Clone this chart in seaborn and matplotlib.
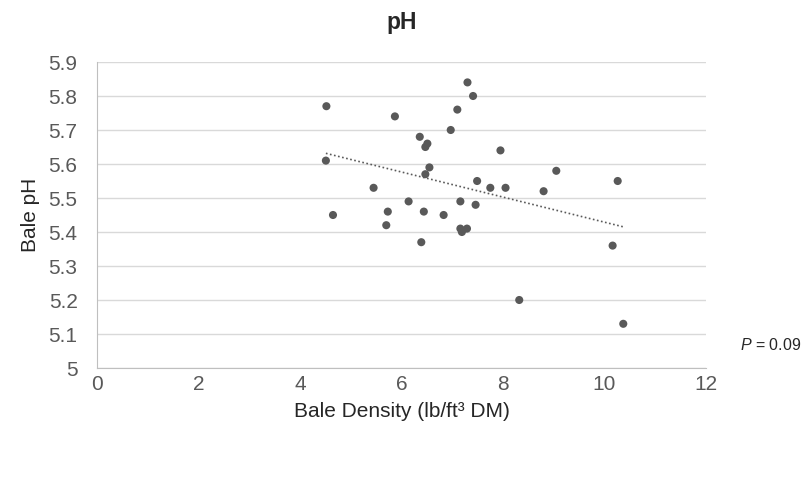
import matplotlib
matplotlib.use("Agg")
import matplotlib.pyplot as plt
import seaborn as sns
import pandas as pd
import numpy as np
from matplotlib.ticker import FuncFormatter

density = [4.52, 4.51, 4.65, 5.45, 5.70, 5.73, 5.87, 6.14, 6.36, 6.39,
           6.44, 6.47, 6.51, 6.47, 6.55, 6.83, 6.97, 7.10, 7.16, 7.16,
           7.19, 7.29, 7.30, 7.41, 7.46, 7.49, 7.75, 7.95, 8.05, 8.32,
           8.80, 9.05, 10.16, 10.26, 10.37]
ph = [5.77, 5.61, 5.45, 5.53, 5.42, 5.46, 5.74, 5.49, 5.68, 5.37,
      5.46, 5.65, 5.66, 5.57, 5.59, 5.45, 5.70, 5.76, 5.49, 5.41,
      5.40, 5.41, 5.84, 5.80, 5.48, 5.55, 5.53, 5.64, 5.53, 5.20,
      5.52, 5.58, 5.36, 5.55, 5.13]
x_ticks = [0, 2, 4, 6, 8, 10, 12]
y_ticks = [5.0, 5.1, 5.2, 5.3, 5.4, 5.5, 5.6, 5.7, 5.8, 5.9]
title = "pH"
x_label = "Bale Density (lb/ft³ DM)"
y_label = "Bale pH"
p_text = "$\\mathit{P}$ = 0.09"

df = pd.DataFrame({"density": density, "ph": ph})

sns.set_style("white")
plt.rcParams["font.family"] = ["Liberation Sans", "DejaVu Sans"]
plt.rcParams["mathtext.fontset"] = "custom"
plt.rcParams["mathtext.rm"] = "Liberation Sans"
plt.rcParams["mathtext.it"] = "Liberation Sans:italic"

fig = plt.figure(figsize=(8.05, 4.78), dpi=100)
ax = fig.add_axes([97/805, 1-368/478, (706-97)/805, (368-62)/478])

sns.scatterplot(data=df, x="density", y="ph", ax=ax, color="#595959",
                s=34, edgecolor="none", zorder=3)
sns.regplot(data=df, x="density", y="ph", ax=ax, scatter=False, ci=None,
            truncate=True,
            line_kws={"color": "#595959", "linestyle": (0, (1, 1.5)),
                      "linewidth": 1.2})

ax.set_xlim(0, 12)
ax.set_ylim(5.0, 5.9)
ax.set_xticks(x_ticks)
ax.set_yticks(y_ticks)
ax.yaxis.set_major_formatter(FuncFormatter(lambda v, p: "%g" % round(v, 1)))
ax.grid(axis="y", color="#d9d9d9", linewidth=1)
ax.set_axisbelow(True)
for s in ["top", "right"]:
    ax.spines[s].set_visible(False)
ax.spines["left"].set_color("#bfbfbf")
ax.spines["bottom"].set_color("#bfbfbf")
ax.tick_params(axis="both", length=0, labelsize=15, colors="#595959")
ax.tick_params(axis="y", pad=14)
ax.tick_params(axis="x", pad=5)

ax.set_title(title, fontsize=16.5, fontweight="bold", pad=24)
ax.set_xlabel(x_label, fontsize=15, labelpad=6)
ax.set_ylabel(y_label, fontsize=15, labelpad=6)

fig.text(740/805, 1-345/478, p_text, fontsize=11.5, va="center", ha="left")

fig.savefig("out.png", dpi=100)
